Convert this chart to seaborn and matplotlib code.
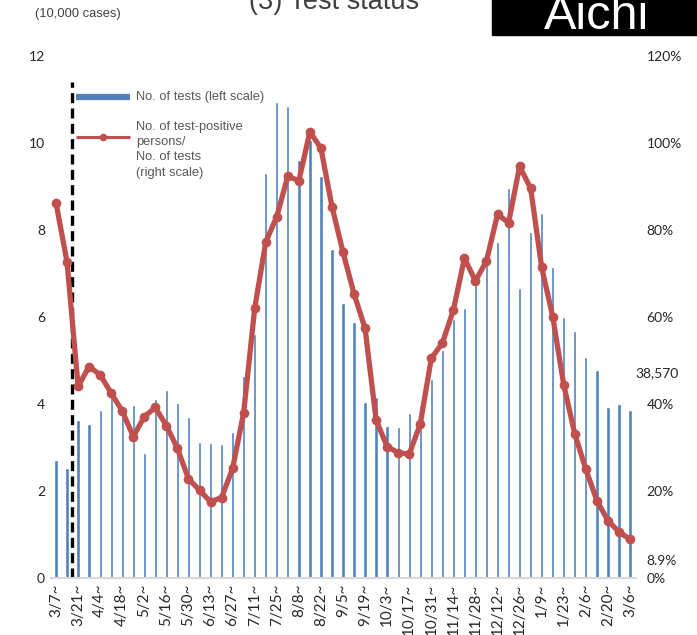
import numpy as np
import pandas as pd
import matplotlib
matplotlib.use("Agg")
import matplotlib.pyplot as plt
import seaborn as sns
from matplotlib.lines import Line2D
from matplotlib.patches import Rectangle

# ---------------- data ----------------
# weekly, starting 3/7
weeks = pd.date_range("2020-03-07", periods=53, freq="7D").strftime("%m/%d").tolist()

tick_labels = ["3/7~", "3/21~", "4/4~", "4/18~", "5/2~", "5/16~", "5/30~",
               "6/13~", "6/27~", "7/11~", "7/25~", "8/8~", "8/22~", "9/5~",
               "9/19~", "10/3~", "10/17~", "10/31~", "11/14~", "11/28~",
               "12/12~", "12/26~", "1/9~", "1/23~", "2/6~", "2/20~", "3/6~"]

# no. of tests (10,000 cases)
tests = [2.71, 2.54, 3.63, 3.54, 3.86, 4.17, 3.95, 3.98, 2.88, 4.11,
         4.32, 4.03, 3.70, 3.13, 3.10, 3.08, 3.36, 4.65, 5.60, 9.30,
         10.94, 10.86, 9.61, 10.07, 9.25, 7.56, 6.33, 5.88, 4.05, 4.17,
         3.50, 3.48, 3.79, 3.95, 4.57, 5.24, 5.95, 6.21, 6.81, 7.31,
         7.72, 8.97, 6.67, 7.95, 8.38, 7.16, 6.01, 5.68, 5.07, 4.78,
         3.92, 4.00, 3.857]

# positive persons / tests (%)
pos_rate = [86.2, 72.6, 44.1, 48.6, 46.7, 42.5, 38.4, 32.5, 37.1, 39.2,
            35.0, 29.8, 22.8, 20.2, 17.5, 18.5, 25.2, 38.0, 62.0, 77.2,
            83.1, 92.4, 91.3, 102.6, 98.8, 85.4, 74.9, 65.3, 57.4, 36.3,
            30.2, 28.8, 28.5, 35.4, 50.5, 54.0, 61.6, 73.5, 68.3, 72.9,
            83.6, 81.7, 94.6, 89.6, 71.4, 60.1, 44.4, 33.1, 25.0, 17.8,
            13.2, 10.6, 8.9]

legend_labels = ["No. of tests (left scale)",
                 "No. of test-positive\npersons/\nNo. of tests\n(right scale)"]

BLUE = "#4F81BD"
RED = "#C0504D"
W, H = 697, 635


def fx(px):
    return px / W


def fy(py):
    return 1 - py / H


df = pd.DataFrame({"week": weeks, "tests": tests, "rate": pos_rate})

# ---------------- plot ----------------
sns.set_style("white")
plt.rcParams["font.family"] = ["Lato", "DejaVu Sans"]

fig = plt.figure(figsize=(W / 100, H / 100), dpi=100)
ax = fig.add_axes([fx(50.5), fy(578), 585 / W, 522 / H])

sns.barplot(data=df, x="week", y="tests", color=BLUE, saturation=1,
            width=0.3, ax=ax)

ax2 = ax.twinx()
sns.lineplot(x=np.arange(len(df)), y=df["rate"], ax=ax2, color=RED,
             lw=3.8, marker="o", markersize=7, markeredgewidth=0)

ax.set_xlim(-0.5, len(df) - 0.5)
ax.set_ylim(0, 12)
ax2.set_ylim(0, 120)
ax.set_yticks(range(0, 13, 2))
ax2.set_yticks(range(0, 121, 20))
ax2.set_yticklabels([f"{v}%" for v in range(0, 121, 20)])
ax.set_xticks(range(0, len(df), 2))
ax.set_xticklabels(tick_labels, rotation=90, va="top", ha="center")
ax.set_xlabel("")
ax.set_ylabel("")
ax2.set_ylabel("")

for a in (ax, ax2):
    for s in a.spines.values():
        s.set_visible(False)
    a.tick_params(length=0, labelsize=10, colors="#262626")
ax.spines["bottom"].set_visible(True)
ax.spines["bottom"].set_color("#D9D9D9")
ax.spines["bottom"].set_linewidth(1.5)
ax.tick_params(axis="y", pad=4)
ax2.tick_params(axis="y", pad=8)
ax.tick_params(axis="x", pad=4, labelsize=11)

# state of emergency marker
ax.axvline(1.45, ymax=11.4 / 12, color="black", lw=2.4, ls=(0, (3.0, 1.6)))

# last values
ax.annotate(f"{tests[-1] * 10000:,.0f}", xy=(1.0, 4.72),
            xycoords=("axes fraction", "data"), xytext=(0, 0),
            textcoords="offset points", fontsize=10, color="#262626",
            va="center", ha="left")
ax2.annotate(f"{pos_rate[-1]}%", xy=(1.0, 3.9),
             xycoords=("axes fraction", "data"), xytext=(8, 0),
             textcoords="offset points", fontsize=10, color="#262626",
             va="center", ha="left")

# legend (drawn by hand to match the original layout)
fig.add_artist(Line2D([fx(76), fx(130)], [fy(97), fy(97)], color=BLUE,
                      lw=4.5, solid_capstyle="butt"))
fig.add_artist(Line2D([fx(76), fx(130)], [fy(137), fy(137)], color=RED,
                      lw=2.2, solid_capstyle="butt"))
fig.add_artist(Line2D([fx(103)], [fy(137)], color=RED, marker="o",
                      markersize=5.5, markeredgewidth=0))
fig.text(fx(136), fy(97), legend_labels[0], ha="left", va="center",
         fontsize=9.3, color="#595959", family="Liberation Sans")
fig.text(fx(136), fy(121), legend_labels[1], ha="left", va="top",
         fontsize=9.3, color="#595959", family="Liberation Sans",
         linespacing=1.36)

# header
fig.text(fx(78), fy(17), "(10,000 cases)", ha="center",
         va="baseline", fontsize=9.3, color="#404040", family="Liberation Sans")
fig.text(fx(334), fy(9), "(3) Test status", ha="center",
         va="baseline", fontsize=19.5, color="#404040", family="Liberation Sans")
fig.patches.append(Rectangle((fx(492), fy(35)), 205 / W, 35 / H,
                             transform=fig.transFigure, color="black"))
fig.text(fx(597), fy(29), "Aichi", ha="center", va="baseline",
         fontsize=35, color="white", family="Liberation Sans")

fig.savefig("out.png", dpi=100)
